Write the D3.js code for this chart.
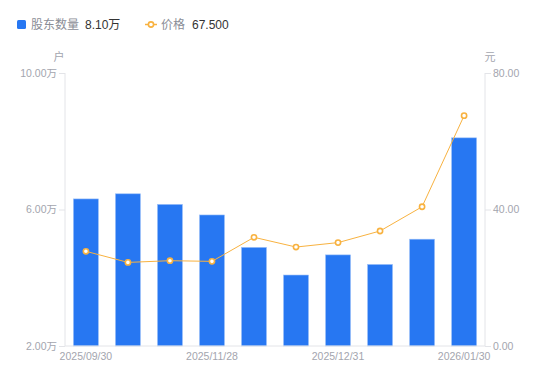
<!DOCTYPE html>
<html><head><meta charset="utf-8">
<script src="https://cdn.jsdelivr.net/npm/d3@7"></script>
<style>body{margin:0;background:#fff;font-family:"Liberation Sans","Noto Sans CJK SC",sans-serif;}</style>
</head><body><svg id="c" width="550" height="381"></svg>
<script>
const categories = ["2025/09/30","2025/10/20","2025/11/10","2025/11/28","2025/12/10","2025/12/19","2025/12/31","2026/01/09","2026/01/20","2026/01/30"];
const holders = [6.31, 6.46, 6.15, 5.84, 4.89, 4.08, 4.67, 4.39, 5.13, 8.10]; // 万户
const prices = [27.75, 24.5, 25.0, 24.8, 31.85, 29.0, 30.3, 33.7, 40.8, 67.5];
const leftTicks = [2, 6, 10];
const rightTicks = [0, 40, 80];
const shownLabels = ["2025/09/30","2025/11/28","2025/12/31","2026/01/30"];

const svg = d3.select("#c");
const FONT = "Liberation Sans, Noto Sans CJK SC, sans-serif";
const L = 65, R = 485, T = 73, B = 346;
const barColor = "#2777f2", lineColor = "#f8b240", axisColor = "#e3e4e8", textColor = "#a3a5ae";

const x = d3.scaleBand().domain(categories).range([L, R]).paddingInner(0.405).paddingOuter(0.2);
const yL = d3.scaleLinear().domain([2, 10]).range([B, T]);
const yR = d3.scaleLinear().domain([0, 80]).range([B, T]);

// bars
svg.append("g").selectAll("rect").data(holders).join("rect")
  .attr("x", (d,i) => x(categories[i]))
  .attr("y", d => yL(d))
  .attr("width", x.bandwidth())
  .attr("height", d => B - yL(d))
  .attr("fill", barColor)
  .attr("stroke", "#9cc0f8").attr("stroke-width", 0.6);

// axes
const gl = svg.append("g").attr("transform", `translate(${L},0)`)
  .call(d3.axisLeft(yL).tickValues(leftTicks).tickSize(6).tickPadding(2).tickFormat(d => d3.format(".2f")(d) + "万"));
const gr = svg.append("g").attr("transform", `translate(${R},0)`)
  .call(d3.axisRight(yR).tickValues(rightTicks).tickSize(6).tickPadding(2).tickFormat(d3.format(".2f")));
[gl, gr].forEach(g => {
  g.select(".domain").attr("stroke", axisColor).attr("d", `M0,${T}V${B}`);
  g.selectAll(".tick line").attr("stroke", axisColor);
  g.selectAll(".tick text").attr("fill", textColor).attr("font-size", 10.5).attr("font-family", FONT);
});

// bottom axis line
svg.append("line").attr("x1", L).attr("x2", R).attr("y1", B).attr("y2", B).attr("stroke", axisColor);

// x labels
const xa = svg.append("g").attr("transform", `translate(0,${B})`)
  .call(d3.axisBottom(x).tickValues(shownLabels).tickSize(0).tickPadding(7));
xa.select(".domain").remove();
xa.selectAll(".tick text").attr("fill", textColor).attr("font-size", 10.5).attr("font-family", FONT);

// unit labels
svg.append("text").attr("x", 59).attr("y", 61).attr("text-anchor", "middle").attr("fill", textColor).attr("font-size", 11).attr("font-family", FONT).text("户");
svg.append("text").attr("x", 490).attr("y", 61).attr("text-anchor", "middle").attr("fill", textColor).attr("font-size", 11).attr("font-family", FONT).text("元");

// line
const cx = (i) => x(categories[i]) + x.bandwidth()/2;
svg.append("path").datum(prices)
  .attr("d", d3.line().x((d,i) => cx(i)).y(d => yR(d)))
  .attr("fill", "none").attr("stroke", lineColor).attr("stroke-width", 1);
svg.append("g").selectAll("circle").data(prices).join("circle")
  .attr("cx", (d,i) => cx(i)).attr("cy", d => yR(d)).attr("r", 2.6)
  .attr("fill", "#fff").attr("stroke", lineColor).attr("stroke-width", 1.6);

// legend
const lg = svg.append("g").attr("font-family", FONT).attr("font-size", 12);
lg.append("rect").attr("x", 17).attr("y", 20).attr("width", 9).attr("height", 9).attr("rx", 1.5).attr("fill", barColor);
lg.append("text").attr("x", 31).attr("y", 29).attr("fill", "#8a8d96").text("股东数量");
lg.append("text").attr("x", 85).attr("y", 29).attr("fill", "#333").text(d3.format(".2f")(holders[holders.length-1]) + "万");
lg.append("line").attr("x1", 145).attr("x2", 157).attr("y1", 24.5).attr("y2", 24.5).attr("stroke", lineColor).attr("stroke-width", 1.5);
lg.append("circle").attr("cx", 151).attr("cy", 24.5).attr("r", 2.6).attr("fill", "#fff").attr("stroke", lineColor).attr("stroke-width", 1.6);
lg.append("text").attr("x", 161).attr("y", 29).attr("fill", "#8a8d96").text("价格");
lg.append("text").attr("x", 192).attr("y", 29).attr("fill", "#333").text(d3.format(".3f")(prices[prices.length-1]));
</script></body></html>
